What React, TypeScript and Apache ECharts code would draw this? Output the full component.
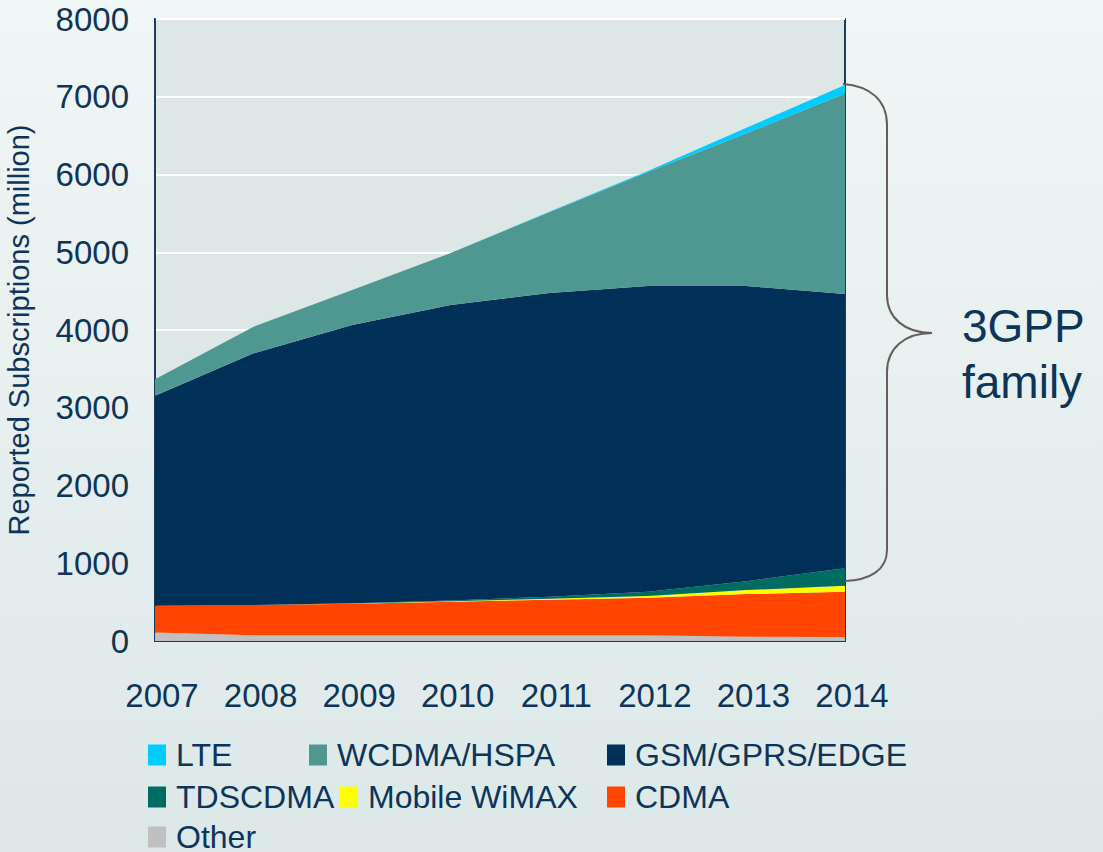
import React, { useEffect, useRef } from "react";
import * as echarts from "echarts";

const years = ["2007", "2008", "2009", "2010", "2011", "2012", "2013", "2014"];
const other = [110, 75, 75, 75, 75, 75, 55, 50];
const cdma = [343, 387, 405, 430, 455, 481, 548, 583];
const wimax = [0, 0, 2, 7, 15, 22, 52, 77];
const tdscdma = [0, 0, 3, 10, 23, 55, 115, 227];
const gsm = [2702, 3238, 3579, 3799, 3907, 3932, 3795, 3525];
const wcdma = [211, 342, 450, 669, 1040, 1466, 1965, 2581];
const lte = [0, 0, 0, 0, 5, 15, 70, 107];

const seriesDefs = [
  { name: "Other", data: other, color: "#C0C0C0" },
  { name: "CDMA", data: cdma, color: "#FF4500" },
  { name: "Mobile WiMAX", data: wimax, color: "#FFFF00" },
  { name: "TDSCDMA", data: tdscdma, color: "#006B60" },
  { name: "GSM/GPRS/EDGE", data: gsm, color: "#003057" },
  { name: "WCDMA/HSPA", data: wcdma, color: "#4F9892" },
  { name: "LTE", data: lte, color: "#00CCFF" },
];

const legendPos = [
  { name: "LTE", left: 148, row: 0 },
  { name: "WCDMA/HSPA", left: 309, row: 0 },
  { name: "GSM/GPRS/EDGE", left: 607, row: 0 },
  { name: "TDSCDMA", left: 148, row: 1 },
  { name: "Mobile WiMAX", left: 340, row: 1 },
  { name: "CDMA", left: 607, row: 1 },
  { name: "Other", left: 148, row: 2 },
];
const rowCenters = [756, 798, 838];

const textColor = "#0D3559";
const font = "'Liberation Sans', Arial, sans-serif";

export default function App() {
  const ref = useRef<HTMLDivElement>(null);
  useEffect(() => {
    if (!ref.current) return;
    const d =
      "M 843 84 C 870 86 887 100 887 125 L 887 295 C 887 318 905 333 932 333 C 905 333 887 348 887 372 L 887 550 C 887 570 870 580 845 581";
    echarts.graphic.registerShape("brace", echarts.graphic.extendPath(d, {}) as any);
    const chart = echarts.init(ref.current, undefined, { renderer: "svg" });
    chart.setOption({
      animation: false,
      backgroundColor: {
        type: "linear",
        x: 0,
        y: 0,
        x2: 0,
        y2: 1,
        colorStops: [
          { offset: 0, color: "#F1F6F6" },
          { offset: 1, color: "#DCE8E8" },
        ],
      },
      textStyle: { fontFamily: font },
      grid: {
        left: 155,
        right: 258,
        top: 19,
        bottom: 211,
        outerBoundsMode: "none",
        containLabel: false,
        show: true,
        backgroundColor: "#DCE7E6",
        borderColor: "#1C3A5C",
        borderWidth: 2,
      },
      xAxis: {
        type: "category",
        data: years,
        boundaryGap: false,
        axisLine: { show: true, lineStyle: { color: "#1C3A5C", width: 2 } },
        axisTick: { show: false },
        splitLine: { show: false },
        axisLabel: {
          color: textColor,
          fontSize: 33,
          fontFamily: font,
          margin: 38,
          padding: [0, 0, 0, 14],
        },
      },
      yAxis: {
        type: "value",
        min: 0,
        max: 8000,
        interval: 1000,
        name: "Reported Subscriptions (million)",
        nameLocation: "middle",
        nameGap: 122,
        nameTextStyle: { color: textColor, fontSize: 29, fontFamily: font },
        axisLine: { show: true, lineStyle: { color: "#1C3A5C", width: 2 } },
        axisTick: { show: false },
        splitLine: { show: true, lineStyle: { color: "#FFFFFF", width: 2 } },
        axisLabel: {
          color: textColor,
          fontSize: 33,
          fontFamily: font,
          margin: 26,
          formatter: (v: number) => String(v),
        },
      },
      legend: legendPos.map((l) => ({
        data: [l.name],
        left: l.left,
        top: rowCenters[l.row] - 17,
        padding: 0,
        itemWidth: 18,
        itemHeight: 21,
        icon: "rect",
        selectedMode: false,
        textStyle: { color: textColor, fontSize: 32, fontFamily: font, padding: [0, 0, 0, 5] },
      })),
      series: seriesDefs.map((s) => ({
        name: s.name,
        type: "line",
        stack: "total",
        data: s.data,
        symbol: "none",
        lineStyle: { width: 0, color: s.color },
        itemStyle: { color: s.color },
        areaStyle: { color: s.color, opacity: 1 },
      })),
      graphic: [
        {
          type: "brace",
          x: 0,
          y: 0,
          style: { fill: "none", stroke: "#665E5E", lineWidth: 2 },
          z: 100,
        },
        {
          type: "text",
          left: 962,
          top: 298,
          style: {
            text: "3GPP\nfamily",
            fill: textColor,
            font: `46px ${font}`,
            lineHeight: 56,
            textAlign: "left",
          },
        },
      ],
    });
    return () => chart.dispose();
  }, []);
  return (
    <div
      ref={ref}
      style={{ position: "absolute", left: 0, top: 0, width: 1103, height: 852 }}
    />
  );
}
